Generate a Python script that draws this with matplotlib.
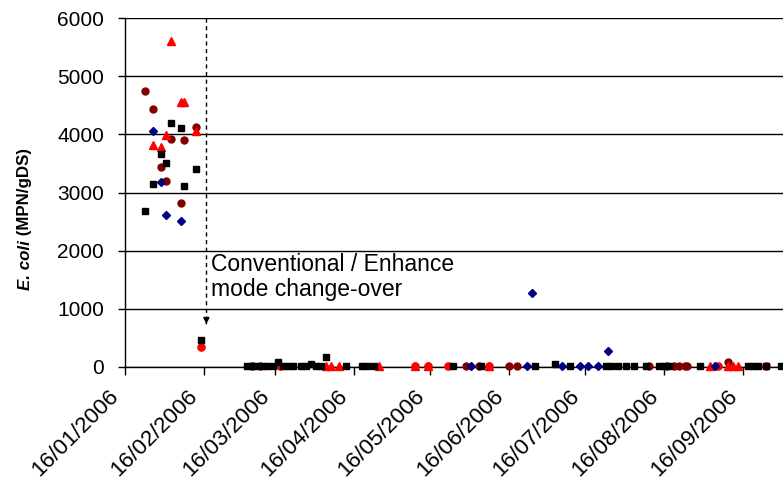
import pandas as pd
import matplotlib
matplotlib.use('Agg')
import matplotlib.pyplot as plt
import matplotlib.dates as mdates
from matplotlib.transforms import ScaledTranslation

plt.rcParams['font.family'] = ['Liberation Sans', 'DejaVu Sans']

# Blue diamonds
blue_dates = ['2006-01-27', '2006-01-30', '2006-02-01', '2006-02-07', '2006-06-01', '2006-06-23',
              '2006-06-25', '2006-07-07', '2006-07-14', '2006-07-17', '2006-07-21', '2006-07-25',
              '2006-09-05']
blue_vals = [4060, 3180, 2620, 2510, 10, 10, 1265, 10, 10, 10, 10, 275, 10]

# Black squares
black_dates = ['2006-01-24', '2006-01-27', '2006-01-30', '2006-02-01', '2006-02-03', '2006-02-07',
               '2006-02-08', '2006-02-13', '2006-02-15',
               '2006-03-05', '2006-03-07', '2006-03-08', '2006-03-11', '2006-03-13', '2006-03-15',
               '2006-03-17', '2006-03-19', '2006-03-21', '2006-03-23', '2006-03-26', '2006-03-28',
               '2006-03-30', '2006-04-01', '2006-04-03', '2006-04-05', '2006-04-13', '2006-04-19',
               '2006-04-21', '2006-04-24', '2006-05-25', '2006-06-05', '2006-06-26', '2006-07-04',
               '2006-07-10', '2006-07-24', '2006-07-26', '2006-07-29', '2006-08-01', '2006-08-04',
               '2006-08-09', '2006-08-14', '2006-08-16', '2006-08-18', '2006-08-30', '2006-09-18',
               '2006-09-20', '2006-09-22', '2006-09-25', '2006-10-01']
black_vals = [2690, 3150, 3660, 3500, 4200, 4110, 3120, 3400, 460,
              10, 10, 10, 10, 10, 10,
              80, 10, 10, 10, 10, 10,
              60, 10, 10, 180, 10, 10,
              10, 10, 10, 10, 10, 50,
              10, 10, 10, 10, 10, 10,
              10, 10, 10, 10, 10, 10,
              10, 10, 10, 10]

# Red triangles
tri_dates = ['2006-01-27', '2006-01-30', '2006-02-01', '2006-02-03', '2006-02-07', '2006-02-08',
             '2006-02-13', '2006-04-05', '2006-04-07', '2006-04-10', '2006-04-26', '2006-05-10',
             '2006-05-15', '2006-06-08', '2006-09-03', '2006-09-10', '2006-09-12', '2006-09-14']
tri_vals = [3820, 3790, 3990, 5610, 4550, 4550, 4050, 10, 10, 10, 10, 10, 10, 10, 10, 10, 10, 10]

# Red circles
red_dates = ['2006-02-15', '2006-03-10', '2006-03-18', '2006-05-10', '2006-05-15', '2006-05-23',
             '2006-06-08', '2006-09-06', '2006-09-25']
red_vals = [340, 10, 10, 10, 10, 10, 10, 10, 10]

# Dark red circles
dred_dates = ['2006-01-24', '2006-01-27', '2006-01-30', '2006-02-01', '2006-02-03', '2006-02-07',
              '2006-02-08', '2006-02-13', '2006-03-07', '2006-05-30', '2006-06-04', '2006-06-16',
              '2006-06-19', '2006-08-10', '2006-08-17', '2006-08-20', '2006-08-22', '2006-08-24',
              '2006-08-25', '2006-09-10']
dred_vals = [4745, 4430, 3445, 3200, 3920, 2815, 3910, 4125, 10, 10, 10, 10,
             10, 10, 10, 10, 10, 10, 10, 90]

tick_dates = ['2006-01-16', '2006-02-16', '2006-03-16', '2006-04-16', '2006-05-16',
              '2006-06-16', '2006-07-16', '2006-08-16', '2006-09-16']
changeover_date = '2006-02-17'

fig = plt.figure(figsize=(7.83, 4.83), dpi=100)
ax = fig.add_axes([125 / 783, 1 - 367 / 483, 658 / 783, 349 / 483])

d = pd.to_datetime
ax.plot(d(dred_dates), dred_vals, 'o', color='#800000', ms=5, mec='#800000', clip_on=False, zorder=3)
ax.plot(d(red_dates), red_vals, 'o', color='#ff0000', ms=5.2, mec='#ff0000', clip_on=False, zorder=3)
ax.plot(d(tri_dates), tri_vals, '^', color='#ff0000', ms=6, mec='#ff0000', clip_on=False, zorder=3)
ax.plot(d(black_dates), black_vals, 's', color='black', ms=5, clip_on=False, zorder=4)
ax.plot(d(blue_dates), blue_vals, 'D', color='#000080', ms=3.8, clip_on=False, zorder=5)

# change-over marker
x0 = d(changeover_date)
ax.plot([x0, x0], [6000, 780], color='black', lw=1, ls=(0, (3, 2.5)), zorder=2)
ax.annotate('', xy=(x0, 690), xytext=(x0, 800),
            arrowprops=dict(arrowstyle='-|>', color='black', lw=1, mutation_scale=9))
ax.text(d('2006-02-19'), 1960, 'Conventional / Enhance\nmode change-over',
        fontsize=16.5, va='top', ha='left', linespacing=1.12)

ax.set_xlim(d('2006-01-16'), d('2006-01-16') + pd.Timedelta(days=258.7))
ax.set_ylim(0, 6000)
ax.set_yticks(range(0, 7000, 1000))
ax.set_xticks(d(tick_dates))
ax.xaxis.set_major_formatter(mdates.DateFormatter('%d/%m/%Y'))
ax.grid(axis='y', color='black', lw=1)
ax.set_axisbelow(True)

for s in ['top', 'right']:
    ax.spines[s].set_visible(False)
ax.spines['left'].set_linewidth(1)
ax.spines['bottom'].set_linewidth(1)
ax.tick_params(axis='y', length=5, width=1, labelsize=15, pad=10)
ax.tick_params(axis='x', length=6, width=1, labelsize=16.2, pad=2)

offset = ScaledTranslation(-0.09, -0.15, fig.dpi_scale_trans)
for lab in ax.get_xticklabels():
    lab.set_rotation(45)
    lab.set_ha('right')
    lab.set_va('center')
    lab.set_rotation_mode('anchor')
    lab.set_transform(lab.get_transform() + offset)

# y label: italic bold "E. coli" followed by bold units
fig.canvas.draw()
t1 = fig.text(25 / 783, 1 - 290 / 483, 'E. coli', rotation=90, fontsize=12.2,
              fontweight='bold', fontstyle='italic', ha='center', va='bottom')
fig.canvas.draw()
bb = t1.get_window_extent()
fig.text(25 / 783, (bb.y1) / fig.bbox.height, ' (MPN/gDS)', rotation=90, fontsize=12.2,
         fontweight='bold', ha='center', va='bottom')

fig.savefig('out.png', dpi=100)
